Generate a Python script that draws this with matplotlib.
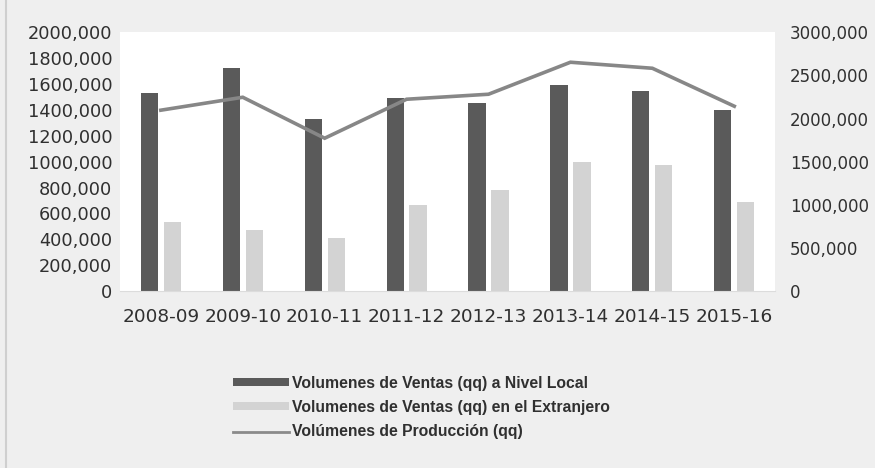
import matplotlib
matplotlib.use('Agg')
import matplotlib.pyplot as plt
from matplotlib.lines import Line2D
from matplotlib.ticker import FuncFormatter, MultipleLocator
import numpy as np

plt.rcParams['font.family'] = 'DejaVu Sans'

# Values (quintales)
seasons = ['2008-09', '2009-10', '2010-11', '2011-12',
           '2012-13', '2013-14', '2014-15', '2015-16']
ventas_local = [1533000, 1724000, 1333000, 1494000, 1456000, 1594000, 1548000, 1402000]
ventas_ext = [536000, 475000, 414000, 667000, 782000, 996000, 973000, 690000]
produccion = [2097000, 2247000, 1772000, 2224000, 2282000, 2653000, 2583000, 2143000]

labels = ['Volumenes de Ventas (qq) a Nivel Local',
          'Volumenes de Ventas (qq) en el Extranjero',
          'Volúmenes de Producción (qq)']

DARK = '#5a5a5a'
LIGHT = '#d3d3d3'
LINE = '#878787'
TEXT = '#303030'
BG = '#efefef'


def fmt_thousands(v, pos):
    v = int(round(v))
    if v == 0:
        return '0'
    return f'{v // 1000},{v % 1000:03d}'


fig = plt.figure(figsize=(8.75, 4.68), dpi=100, facecolor=BG)
ax = fig.add_axes([0.137, 0.378, 0.749, 0.553])
ax.set_facecolor('white')

x = np.arange(len(seasons))
b1 = ax.bar(x - 0.14, ventas_local, width=0.21, color=DARK)
b2 = ax.bar(x + 0.14, ventas_ext, width=0.21, color=LIGHT)
ax.set_xlim(-0.5, len(seasons) - 0.5)
ax.set_ylim(0, 2000000)
ax.yaxis.set_major_locator(MultipleLocator(200000))
ax.yaxis.set_major_formatter(FuncFormatter(fmt_thousands))
ax.set_xticks(x)
ax.set_xticklabels(seasons)

ax2 = ax.twinx()
ln, = ax2.plot(x, produccion, color=LINE, lw=2.6, solid_joinstyle='miter')
ax2.set_ylim(0, 3000000)
ax2.yaxis.set_major_locator(MultipleLocator(500000))
ax2.yaxis.set_major_formatter(FuncFormatter(fmt_thousands))

for a in (ax, ax2):
    for s in a.spines.values():
        s.set_visible(False)
ax.spines['bottom'].set_visible(True)
ax.spines['bottom'].set_color('#dcdcdc')

ax.tick_params(axis='y', length=0, pad=5.5, labelsize=12.8, labelcolor=TEXT)
ax.tick_params(axis='x', length=0, pad=12, labelsize=13.3, labelcolor=TEXT)
ax2.tick_params(axis='y', length=0, pad=10.5, labelsize=12, labelcolor=TEXT)

leg = fig.legend([b1, b2, ln], labels, loc='upper left',
                 bbox_to_anchor=(0.259, 0.211), frameon=False,
                 prop={'family': 'Liberation Sans', 'weight': 'bold', 'size': 11.3},
                 handlelength=3.6, handleheight=0.4,
                 handletextpad=0.15, labelspacing=0.6, borderaxespad=0)
for t in leg.get_texts():
    t.set_color(TEXT)
leg.legend_handles[2].set_linewidth(2)
leg.legend_handles[2].set_color('#8a8a8a')

# left edge of the scanned page
fig.add_artist(Line2D([0.007, 0.007], [0, 1], color='#cfcfcf', lw=1.5))

fig.savefig('out.png', dpi=100, facecolor=BG)
